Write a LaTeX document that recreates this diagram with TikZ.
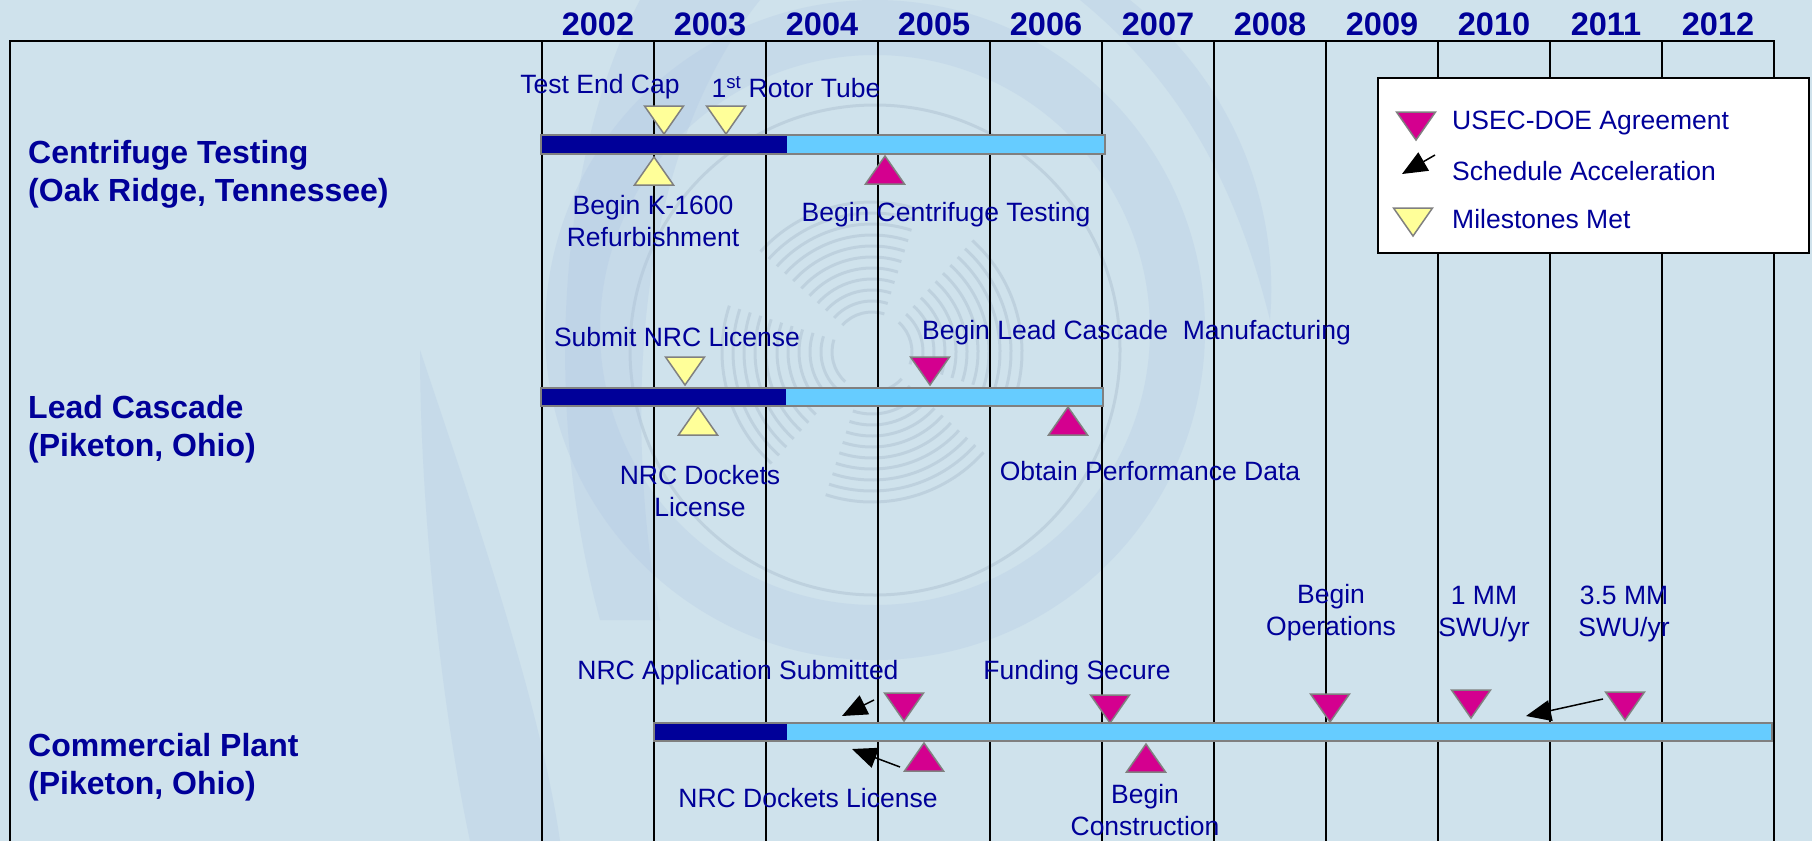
\documentclass[tikz,border=0pt]{standalone}
\usepackage{fontspec}
\setmainfont{Liberation Sans}
\usetikzlibrary{arrows.meta}
\definecolor{bgblue}{RGB}{207,226,236}
\definecolor{wmblue}{RGB}{178,200,228}
\definecolor{wmgrey}{RGB}{160,180,198}
\definecolor{navy}{RGB}{0,0,153}
\definecolor{sky}{RGB}{102,204,255}
\definecolor{usec}{RGB}{212,0,143}
\definecolor{met}{RGB}{255,255,153}
\begin{document}
\begin{tikzpicture}[x=1pt,y=-1pt,
  lbl/.style={text=navy,font=\fontsize{26.5}{32}\selectfont,align=center,inner sep=0pt},
  row/.style={text=navy,font=\fontsize{32}{38}\selectfont\bfseries,align=left,anchor=west,inner sep=0pt},
  year/.style={text=navy,font=\fontsize{32.5}{36}\selectfont\bfseries,inner sep=0pt},
  grid/.style={line width=1.5pt},
  bar/.style={draw=gray,line width=2pt},
  tri/.style={draw=gray,line width=1.5pt},
  acc/.style={line width=1.5pt,-{Triangle[length=25pt,width=21pt]}},
  wm/.style={fill=wmblue,fill opacity=.3,draw=none},
  agreedn/.pic={\draw[tri,fill=usec] (0,0) -- (-19.5,-28) -- (19.5,-28) -- cycle;},
  agreeup/.pic={\draw[tri,fill=usec] (0,0) -- (-19.5,28) -- (19.5,28) -- cycle;},
  metdn/.pic={\draw[tri,fill=met] (0,0) -- (-19.5,-28) -- (19.5,-28) -- cycle;},
  metup/.pic={\draw[tri,fill=met] (0,0) -- (-19.5,28) -- (19.5,28) -- cycle;}]

  \useasboundingbox (0,0) rectangle (1812,841);
  \fill[bgblue] (0,0) rectangle (1812,841);

  % faint logo behind the chart
  \path[wm,even odd rule] (875,330) circle (330) (875,330) circle (275);
  \draw[wmgrey,line width=3pt,opacity=.35] (875,350) circle (245);
  \foreach \r in {40,51,...,150}
    \foreach \a in {30,120,210,300}
      \draw[wmgrey,line width=3pt,opacity=.35] ([shift={(\a+12:\r)}]872,352) arc[start angle=\a+12,end angle=\a+78,radius=\r];
  \path[wm] (640,0) .. controls (560,150) and (540,400) .. (600,620)
    -- (660,620) .. controls (620,400) and (640,150) .. (760,0) -- cycle;
  \path[wm] (420,350) .. controls (470,500) and (540,700) .. (560,841)
    -- (470,841) .. controls (440,700) and (420,500) .. cycle;
  \path[wm] (1130,0) .. controls (1230,80) and (1280,200) .. (1270,320)
    .. controls (1240,200) and (1190,90) .. (1080,0) -- cycle;

  % frame, year columns
  \draw[line width=2pt] (10,841) -- (10,41) -- (1775,41);
  \foreach \i in {0,...,11}
    \draw[grid] (542+112*\i,41) -- (542+112*\i,841);
  \foreach \yr [count=\i from 0] in {2002,...,2012}
    \node[year] (y\yr) at (598+112*\i,24) {\yr};

  % legend
  \draw[line width=2pt,fill=white] (1378,78) rectangle (1809,253);
  \pic at (1416,140) {agreedn};
  \node[lbl,anchor=west] (lagree) at (1452,123) {USEC-DOE Agreement};
  \coordinate (la) at (1435,155);
  \coordinate (lb) at (1402,174);
  \draw[acc] (la) -- (lb);
  \node[lbl,anchor=west] (lacc) at (1452,171) {Schedule Acceleration};
  \pic at (1413,236) {metdn};
  \node[lbl,anchor=west] (lmet) at (1452,219) {Milestones Met};

  % centrifuge testing
  \node[row] (r1) at (28,174) {Centrifuge Testing\\(Oak Ridge, Tennessee)};
  \path[bar,fill=sky] (541,135) rectangle (1105,154);
  \fill[navy] (542,136) rectangle (787,153);
  \pic at (664,134) {metdn};
  \pic at (726,134) {metdn};
  \pic at (654,157) {metup};
  \pic at (885,156) {agreeup};
  \node[lbl] (cap) at (600,87) {Test End Cap};
  \node[lbl] (tube) at (796,87) {1\textsuperscript{st} Rotor Tube};
  \node[lbl] (k1600) at (653,221) {Begin K-1600\\Refurbishment};
  \node[lbl] (ctest) at (946,215) {Begin Centrifuge Testing};

  % lead cascade
  \node[row] (r2) at (28,429) {Lead Cascade\\(Piketon, Ohio)};
  \path[bar,fill=sky] (541,388) rectangle (1103,406);
  \fill[navy] (542,389) rectangle (786,405);
  \pic at (685,385) {metdn};
  \pic at (930,385) {agreedn};
  \pic at (698,407) {metup};
  \pic at (1068,407) {agreeup};
  \node[lbl] (submit) at (677,337) {Submit NRC License};
  \node[lbl,anchor=west] (manuf) at (922,333) {Begin Lead Cascade\ \ Manufacturing};
  \node[lbl] (docket) at (700,491) {NRC Dockets\\License};
  \node[lbl] (perf) at (1150,471) {Obtain Performance Data};

  % commercial plant
  \node[row] (r3) at (28,767) {Commercial Plant\\(Piketon, Ohio)};
  \path[bar,fill=sky] (654,723) rectangle (1772,741);
  \fill[navy] (655,724) rectangle (787,740);
  \pic at (904,721) {agreedn};
  \pic at (1110,723) {agreedn};
  \pic at (1330,722) {agreedn};
  \pic at (1471,718) {agreedn};
  \pic at (1625,720) {agreedn};
  \pic at (924,743) {agreeup};
  \pic at (1146,744) {agreeup};
  \node[lbl] (app) at (738,673) {NRC Application Submitted};
  \node[lbl] (cdocket) at (808,798) {NRC Dockets License};
  \node[lbl] (fund) at (1077,673) {Funding Secure};
  \node[lbl] (constr) at (1145,810) {Begin\\Construction};
  \node[lbl] (ops) at (1331,613) {Begin\\Operations};
  \node[lbl] (mm1) at (1484,614) {1 MM\\SWU/yr};
  \node[lbl] (mm35) at (1624,614) {3.5 MM\\SWU/yr};
  \coordinate (a1) at (874,700);
  \coordinate (a1t) at (842,716);
  \coordinate (a2) at (900,767);
  \coordinate (a2t) at (852,749);
  \coordinate (a3) at (1603,699);
  \coordinate (a3t) at (1526,716);
  \draw[acc] (a1) -- (a1t);
  \draw[acc] (a2) -- (a2t);
  \draw[acc] (a3) -- (a3t);
\end{tikzpicture}
\end{document}
